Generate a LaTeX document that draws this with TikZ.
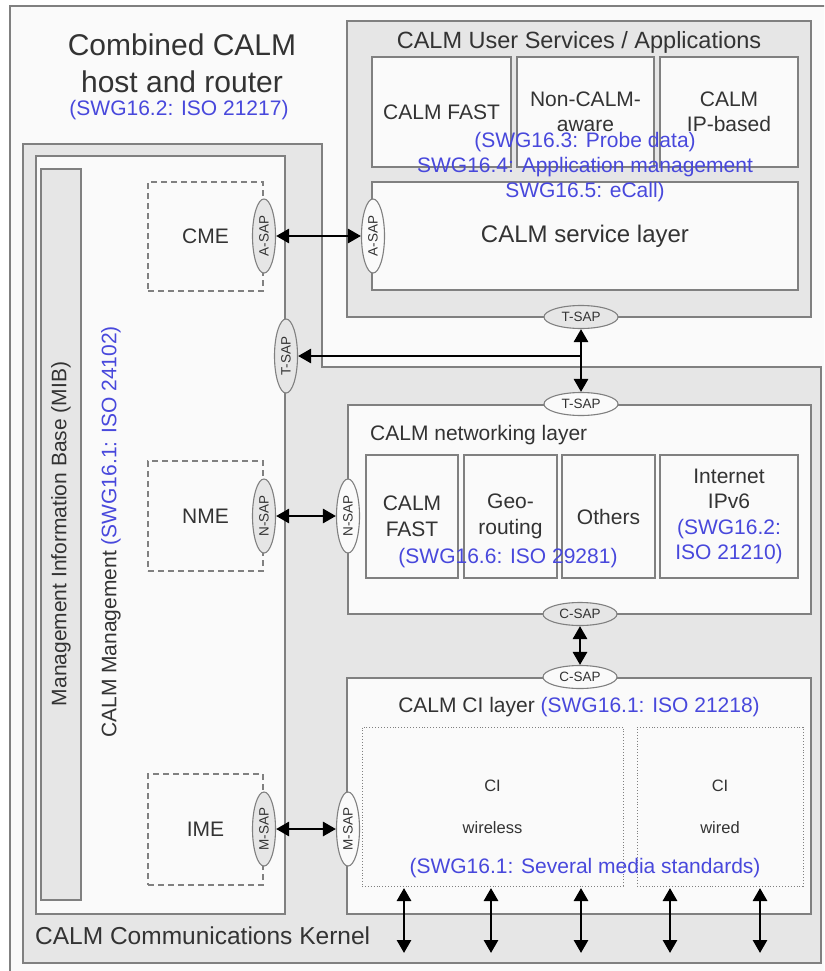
\documentclass[tikz,border=0pt]{standalone}
\usepackage{fontspec}
\setmainfont{Liberation Sans}
\usetikzlibrary{shapes.geometric,arrows.meta}

\definecolor{edge}{HTML}{808080}
\definecolor{panel}{HTML}{E6E6E6}
\definecolor{paper}{HTML}{FAFAFA}
\definecolor{ink}{HTML}{333333}
\definecolor{swg}{HTML}{4848DC}
\newcommand{\setfs}[2]{\fontsize{#1}{#2}\selectfont}

\begin{document}
\begin{tikzpicture}[x=1pt, y=-1pt,
    every node/.style={text=ink, font=\setfs{21}{25.5}},
    box/.style={draw=edge, line width=1.4pt, fill=paper, inner sep=0pt, align=center},
    graybox/.style={box, fill=panel},
    mebox/.style={draw=edge, line width=1.3pt, dash pattern=on 6pt off 4pt, inner sep=0pt},
    cibox/.style={draw=edge, line width=0.9pt, dotted, inner sep=0pt, align=center},
    sap/.style={ellipse, draw=edge, line width=1.1pt, fill=paper, inner sep=0pt,
                minimum width=74, minimum height=23, font=\setfs{13.5}{15}},
    sapg/.style={sap, fill=panel},
    swgtext/.style={text=swg, align=center},
    link/.style={line width=2.8pt, black, >={Triangle[length=13pt,width=14pt]}, <->}]
    \useasboundingbox (0,0) rectangle (824,971);
    \clip (0,0) rectangle (824,971);

    % frame and kernel
    \draw[draw=edge, line width=1.3pt, fill=paper] (10,6) rectangle (840,990);
    \draw[draw=edge, line width=1.4pt, fill=panel] (23,144) -- (322,144) -- (322,367)
        -- (821,367) -- (821,963) -- (23,963) -- cycle;

    \node (hosttitle) at (182, 63) [font=\setfs{30}{37}, align=center] {Combined CALM\\host and router};
    \node (hostswg) at (179, 110) [swgtext] {(SWG16.2: ISO 21217)};
    \node (kerneltext) at (35, 936) [anchor=west, inner sep=0pt, font=\setfs{24.5}{29}] {CALM Communications Kernel};

    % user services / applications
    \node (usrsvc) at (579, 169) [graybox, minimum width=464, minimum height=296] {};
    \node (usrtitle) at (579, 42) [font=\setfs{23.5}{28}] {CALM User Services / Applications};
    \node (usrfast) at (441.5, 112) [box, minimum width=139, minimum height=110] {CALM FAST};
    \node (usrnon) at (585.5, 112) [box, minimum width=137, minimum height=110] {Non-CALM-\\aware};
    \node (usrip) at (729, 112) [box, minimum width=138, minimum height=110] {CALM\\IP-based};
    \node (svclayer) at (585, 236) [box, minimum width=426, minimum height=108, font=\setfs{24}{28}] {CALM service layer};
    \node (usrswg) at (585, 167) [swgtext, font=\setfs{21}{25}] {(SWG16.3: Probe data)\\SWG16.4: Application management\\SWG16.5: eCall)};

    % management
    \node (mgmt) at (160.5, 535) [box, minimum width=249, minimum height=758] {};
    \node (mib) at (61, 534.5) [graybox, minimum width=40, minimum height=731] {};
    \node (mibtext) at (61, 534) [rotate=90] {Management Information Base (MIB)};
    \node (mgmttext) at (111, 532) [rotate=90] {CALM Management \textcolor{swg}{(SWG16.1: ISO 24102)}};
    \node (cme) at (205.5, 236.5) [mebox, minimum width=115, minimum height=109] {CME};
    \node (nme) at (205.5, 516) [mebox, minimum width=115, minimum height=110] {NME};
    \node (ime) at (205.5, 829.5) [mebox, minimum width=115, minimum height=111] {IME};

    % networking layer
    \node (net) at (579.5, 509.5) [box, minimum width=463, minimum height=209] {};
    \node (nettitle) at (370, 435) [anchor=west, inner sep=0pt] {CALM networking layer};
    \node (netfast) at (412, 516.5) [box, minimum width=92, minimum height=123] {CALM\\FAST};
    \node (netgeo) at (510.5, 516.5) [box, minimum width=93, minimum height=123] {Geo-\\routing};
    \node (netoth) at (608.5, 516.5) [box, minimum width=93, minimum height=123] {Others};
    \node (netip) at (729, 516.5) [box, minimum width=138, minimum height=123] {Internet\\IPv6\\\textcolor{swg}{(SWG16.2:}\\\textcolor{swg}{ISO 21210)}};
    \node (netswg) at (508, 558) [swgtext] {(SWG16.6: ISO 29281)};

    % CI layer
    \node (ci) at (579, 796) [box, minimum width=464, minimum height=236] {};
    \node (cititle) at (579, 707) {CALM CI layer \textcolor{swg}{(SWG16.1: ISO 21218)}};
    \node (wireless) at (492.5, 806.5) [cibox, minimum width=261, minimum height=159, font=\setfs{16.5}{42}] {CI\\wireless};
    \node (wired) at (720, 806.5) [cibox, minimum width=166, minimum height=159, font=\setfs{16.5}{42}] {CI\\wired};
    \node (ciswg) at (585, 868) [swgtext] {(SWG16.1: Several media standards)};

    % service access points
    \node (cmeA) at (264, 236) [sapg, rotate=90] {A-SAP};
    \node (svcA) at (373, 236) [sap, rotate=90] {A-SAP};
    \node (mgmtT) at (286, 356) [sapg, rotate=90] {T-SAP};
    \node (usrT) at (581, 317) [sapg] {T-SAP};
    \node (netT) at (581, 404) [sap] {T-SAP};
    \node (nmeN) at (264, 516) [sapg, rotate=90] {N-SAP};
    \node (netN) at (348, 516) [sap, rotate=90] {N-SAP};
    \node (netC) at (580, 614) [sapg] {C-SAP};
    \node (ciC) at (580, 677) [sap] {C-SAP};
    \node (imeM) at (264, 829) [sapg, rotate=90] {M-SAP};
    \node (ciM) at (348, 829) [sap, rotate=90] {M-SAP};

    % links
    \coordinate (tjoin) at (581, 356);
    \draw[link] (cmeA) to (svcA);
    \draw[link, ->] (tjoin) to (mgmtT);
    \draw[link] (usrT) to (netT);
    \draw[link] (nmeN) to (netN);
    \draw[link] (netC) to (ciC);
    \draw[link] (imeM) to (ciM);
    \foreach \x [count=\i] in {404, 491, 581, 670, 760} {
        \coordinate (ciTop\i) at (\x, 888);
        \coordinate (ciBot\i) at (\x, 953);
        \draw[link] (ciTop\i) to (ciBot\i);
    }
\end{tikzpicture}
\end{document}
